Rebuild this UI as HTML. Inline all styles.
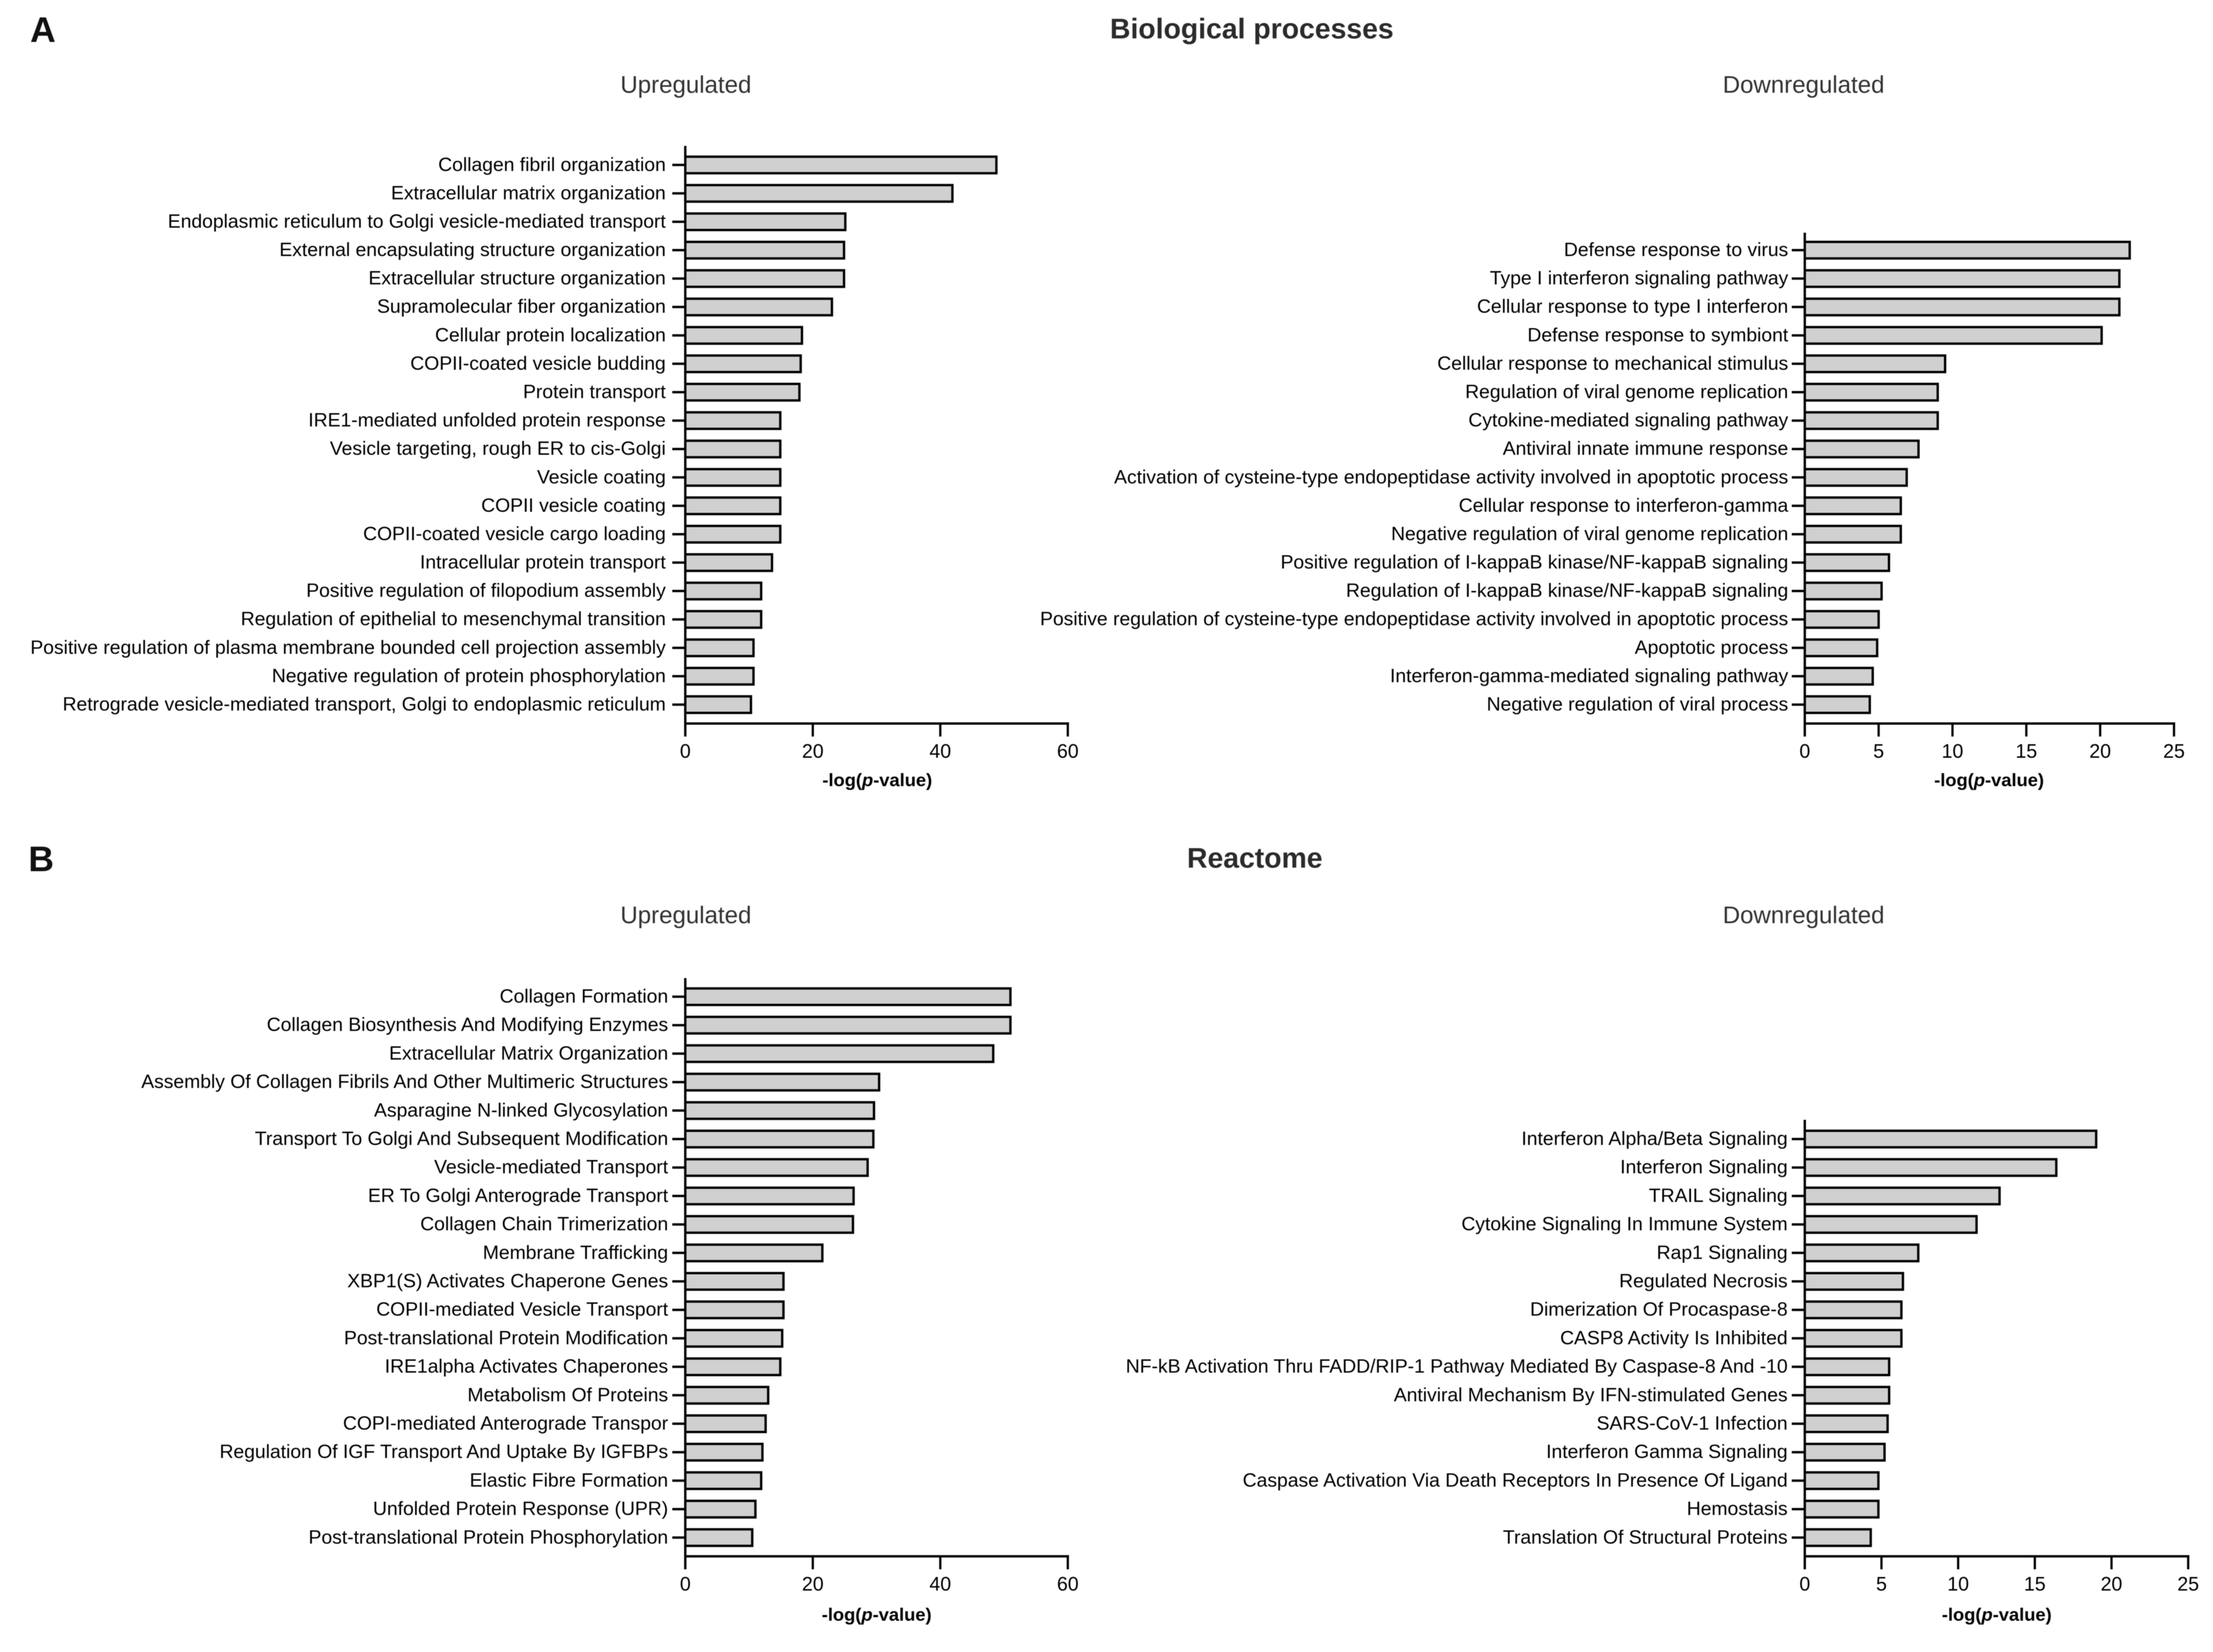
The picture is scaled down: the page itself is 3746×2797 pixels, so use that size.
<!DOCTYPE html>
<html lang="en">
<head>
<meta charset="utf-8">
<title>Biological processes and Reactome enrichment</title>
<style>
html,body{margin:0;padding:0;background:#fff;}
body{width:3746px;height:2797px;overflow:hidden;}
svg{display:block;font-family:"Liberation Sans",Arial,sans-serif;filter:blur(0.6px);}
.panel-letter{font-size:60px;font-weight:700;fill:#111;}
.section-title{font-size:48px;font-weight:700;fill:#2b2b2b;text-anchor:middle;}
.sub-title{font-size:40.7px;fill:#333;text-anchor:middle;}
.cat{font-size:32.7px;fill:#000;text-anchor:end;}
.tick{font-size:33px;fill:#000;text-anchor:middle;}
.xtitle{font-size:31px;font-weight:700;fill:#000;text-anchor:middle;}
</style>
</head>
<body>
<svg id="figure" xmlns="http://www.w3.org/2000/svg" width="3746" height="2797" viewBox="0 0 3746 2797">
  <rect width="3746" height="2797" fill="#fff"/>
  <text class="panel-letter" x="51" y="71">A</text>
  <text class="panel-letter" x="48" y="1475">B</text>
  <text class="section-title" x="2119" y="65">Biological processes</text>
  <text class="section-title" x="2124" y="1469">Reactome</text>
  <text class="sub-title" x="1161" y="157">Upregulated</text>
  <text class="sub-title" x="3053" y="157">Downregulated</text>
  <text class="sub-title" x="1161" y="1563">Upregulated</text>
  <text class="sub-title" x="3053" y="1563">Downregulated</text>
</svg>
<script>
const bpUpCategories = ["Collagen fibril organization","Extracellular matrix organization","Endoplasmic reticulum to Golgi vesicle-mediated transport","External encapsulating structure organization","Extracellular structure organization","Supramolecular fiber organization","Cellular protein localization","COPII-coated vesicle budding","Protein transport","IRE1-mediated unfolded protein response","Vesicle targeting, rough ER to cis-Golgi","Vesicle coating","COPII vesicle coating","COPII-coated vesicle cargo loading","Intracellular protein transport","Positive regulation of filopodium assembly","Regulation of epithelial to mesenchymal transition","Positive regulation of plasma membrane bounded cell projection assembly","Negative regulation of protein phosphorylation","Retrograde vesicle-mediated transport, Golgi to endoplasmic reticulum"];
const bpUpValues = [48.8,41.9,25.1,24.9,24.9,23,18.3,18.1,17.9,14.9,14.9,14.9,14.9,14.9,13.6,11.9,11.9,10.7,10.7,10.3];
const bpDownCategories = ["Defense response to virus","Type I interferon signaling pathway","Cellular response to type I interferon","Defense response to symbiont","Cellular response to mechanical stimulus","Regulation of viral genome replication","Cytokine-mediated signaling pathway","Antiviral innate immune response","Activation of cysteine-type endopeptidase activity involved in apoptotic process","Cellular response to interferon-gamma","Negative regulation of viral genome replication","Positive regulation of I-kappaB kinase/NF-kappaB signaling","Regulation of I-kappaB kinase/NF-kappaB signaling","Positive regulation of cysteine-type endopeptidase activity involved in apoptotic process","Apoptotic process","Interferon-gamma-mediated signaling pathway","Negative regulation of viral process"];
const bpDownValues = [22,21.3,21.3,20.1,9.5,9,9,7.7,6.9,6.5,6.5,5.7,5.2,5,4.9,4.6,4.4];
const reUpCategories = ["Collagen Formation","Collagen Biosynthesis And Modifying Enzymes","Extracellular Matrix Organization","Assembly Of Collagen Fibrils And Other Multimeric Structures","Asparagine N-linked Glycosylation","Transport To Golgi And Subsequent Modification","Vesicle-mediated Transport","ER To Golgi Anterograde Transport","Collagen Chain Trimerization","Membrane Trafficking","XBP1(S) Activates Chaperone Genes","COPII-mediated Vesicle Transport","Post-translational Protein Modification","IRE1alpha Activates Chaperones","Metabolism Of Proteins","COPI-mediated Anterograde Transpor","Regulation Of IGF Transport And Uptake By IGFBPs","Elastic Fibre Formation","Unfolded Protein Response (UPR)","Post-translational Protein Phosphorylation"];
const reUpValues = [51,51,48.3,30.4,29.6,29.5,28.6,26.4,26.3,21.5,15.4,15.4,15.2,14.9,13,12.6,12.1,11.9,11,10.5];
const reDownCategories = ["Interferon Alpha/Beta Signaling","Interferon Signaling","TRAIL Signaling","Cytokine Signaling In Immune System","Rap1 Signaling","Regulated Necrosis","Dimerization Of Procaspase-8","CASP8 Activity Is Inhibited","NF-kB Activation Thru FADD/RIP-1 Pathway Mediated By Caspase-8 And -10","Antiviral Mechanism By IFN-stimulated Genes","SARS-CoV-1 Infection","Interferon Gamma Signaling","Caspase Activation Via Death Receptors In Presence Of Ligand","Hemostasis","Translation Of Structural Proteins"];
const reDownValues = [19,16.4,12.7,11.2,7.4,6.4,6.3,6.3,5.5,5.5,5.4,5.2,4.8,4.8,4.3];
const upTicks = [0,20,40,60];
const downTicks = [0,5,10,15,20,25];

const svg = document.getElementById('figure');
const NS = 'http://www.w3.org/2000/svg';

function make(tag, attrs, parent) {
  const el = document.createElementNS(NS, tag);
  for (const k in attrs) el.setAttribute(k, attrs[k]);
  parent.appendChild(el);
  return el;
}
function slug(s) {
  return s.toLowerCase().replace(/[^a-z0-9]+/g, '-').replace(/^-|-$/g, '');
}

function drawPanel(prefix, cats, vals, ticks, layout) {
  const max = ticks[ticks.length - 1];
  const xScale = v => layout.x0 + v / max * layout.width;
  const yScale = i => layout.lastY - (cats.length - 1 - i) * layout.step;
  const g = make('g', {}, svg);
  
  

  vals.forEach((v, i) => {
    const cy = yScale(i);
    const bar = make('rect', {x: xScale(0), y: cy - 14, width: xScale(v) - xScale(0), height: 28, fill: '#d0d0d0', stroke: '#000', 'stroke-width': 4}, g);
    
    
    const tick = make('line', {x1: xScale(0) - 22, x2: xScale(0), y1: cy, y2: cy, stroke: '#000', 'stroke-width': 4}, g);
    
    
    const label = make('text', {class: 'cat', x: xScale(0) - layout.labelGap, y: cy + 10}, g);
    label.textContent = cats[i];
    
    
  });

  const yAxis = make('line', {x1: xScale(0), x2: xScale(0), y1: layout.top, y2: layout.axisY + 22, stroke: '#000', 'stroke-width': 4}, g);
  
  
  const xAxis = make('line', {x1: xScale(0) - 2, x2: xScale(max) + 2, y1: layout.axisY, y2: layout.axisY, stroke: '#000', 'stroke-width': 4}, g);
  
  

  ticks.forEach(t => {
    const tx = xScale(t);
    const mark = make('line', {x1: tx, x2: tx, y1: layout.axisY, y2: layout.axisY + 22, stroke: '#000', 'stroke-width': 3.8}, g);
    
    
    const lab = make('text', {class: 'tick', x: tx, y: layout.axisY + 58}, g);
    lab.textContent = t;
    
    
  });

  const title = make('text', {class: 'xtitle', x: layout.titleX, y: layout.titleY}, g);
  
  
  title.appendChild(document.createTextNode('-log('));
  const p = make('tspan', {'font-style': 'italic'}, title);
  p.textContent = 'p';
  title.appendChild(document.createTextNode('-value)'));
}

drawPanel('bp-upregulated', bpUpCategories, bpUpValues, upTicks, {x0: 1160, width: 647.5, lastY: 1193, step: 48.09, axisY: 1225, top: 247, titleX: 1485, titleY: 1331, labelGap: 33});
drawPanel('bp-downregulated', bpDownCategories, bpDownValues, downTicks, {x0: 3055, width: 625, lastY: 1193, step: 48.09, axisY: 1225, top: 394, titleX: 3367, titleY: 1331, labelGap: 28});
drawPanel('reactome-upregulated', reUpCategories, reUpValues, upTicks, {x0: 1160, width: 647.5, lastY: 2603.3, step: 48.2, axisY: 2635, top: 1656, titleX: 1484, titleY: 2744, labelGap: 29});
drawPanel('reactome-downregulated', reDownCategories, reDownValues, downTicks, {x0: 3055, width: 649, lastY: 2603.3, step: 48.2, axisY: 2635, top: 1896, titleX: 3380, titleY: 2744, labelGap: 29});
</script>
</body>
</html>
